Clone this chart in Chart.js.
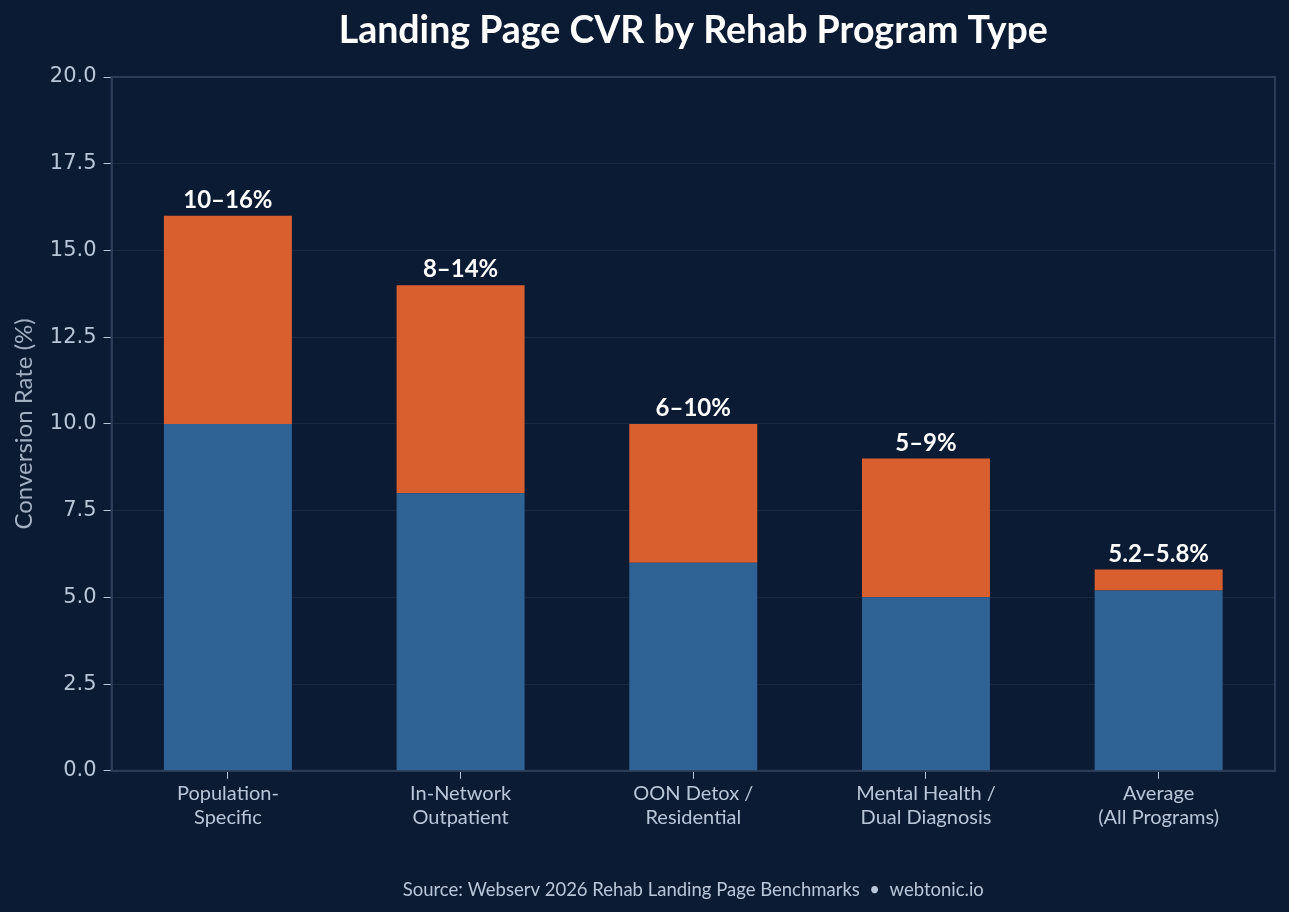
<!DOCTYPE html>
<html>
<head>
<meta charset="utf-8">
<script src="https://cdn.jsdelivr.net/npm/chart.js@4"></script>
<style>
  html, body { margin: 0; padding: 0; background: #0c1b34; }
  #wrap { width: 1289px; height: 912px; }
</style>
</head>
<body>
<div id="wrap"><canvas id="cvr"></canvas></div>
<script>
const programas = [['Population-', 'Specific'], ['In-Network', 'Outpatient'], ['OON Detox /', 'Residential'], ['Mental Health /', 'Dual Diagnosis'], ['Average', '(All Programs)']]
const minimo = [10, 8, 6, 5, 5.2]
const maximo = [16, 14, 10, 9, 5.8]
const faixas = ['10–16%', '8–14%', '6–10%', '5–9%', '5.2–5.8%']

// parte laranja = diferenca entre max e min
const extra = maximo.map((v, i) => +(v - minimo[i]).toFixed(2))

const corTexto = '#b9c5d8'

const moldura = {
    id: 'moldura',
    beforeDatasetsDraw(chart) {
        const a = chart.chartArea
        const ctx = chart.ctx
        ctx.save()
        ctx.strokeStyle = '#2c3c58'
        ctx.lineWidth = 2
        ctx.strokeRect(a.left, a.top, a.right - a.left, a.bottom - a.top)
        ctx.restore()
    }
}

const rotulos = {
    id: 'rotulos',
    afterDatasetsDraw(chart) {
        const ctx = chart.ctx
        const meta = chart.getDatasetMeta(1)
        ctx.save()
        ctx.fillStyle = '#ffffff'
        ctx.font = 'bold 24px Lato'
        ctx.textAlign = 'center'
        ctx.textBaseline = 'alphabetic'
        meta.data.forEach((bar, i) => {
            ctx.fillText(faixas[i], bar.x, bar.y - 8)
        })
        ctx.restore()
    }
}

new Chart(document.getElementById('cvr'), {
    type: 'bar',
    data: {
        labels: programas,
        datasets: [{
            label: 'Min',
            data: minimo,
            backgroundColor: '#2f6295',
            barPercentage: 0.55,
            categoryPercentage: 1
        }, {
            label: 'Range',
            data: extra,
            backgroundColor: '#d95f2f',
            barPercentage: 0.55,
            categoryPercentage: 1
        }]
    },
    options: {
        responsive: true,
        maintainAspectRatio: false,
        animation: false,
        layout: { padding: { left: 6, right: 14, top: 0, bottom: 6 } },
        plugins: {
            legend: { display: false },
            tooltip: { enabled: false },
            title: {
                display: true,
                fullSize: false,
                text: 'Landing Page CVR by Rehab Program Type',
                color: '#ffffff',
                font: { family: 'Lato', size: 37.5, weight: 'bold' },
                padding: { top: 8, bottom: 24 }
            },
            subtitle: {
                display: true,
                fullSize: false,
                position: 'bottom',
                text: 'Source: Webserv 2026 Rehab Landing Page Benchmarks  •  webtonic.io',
                color: corTexto,
                font: { family: 'Lato', size: 18.5 },
                padding: { top: 46, bottom: 5 }
            }
        },
        scales: {
            x: {
                stacked: true,
                grid: { drawOnChartArea: false, offset: false, tickColor: corTexto, tickLength: 8 },
                border: { color: '#2c3c58', width: 2 },
                ticks: { color: corTexto, font: { family: 'Lato', size: 20 }, padding: 3 }
            },
            y: {
                stacked: true,
                min: 0,
                max: 20,
                ticks: {
                    stepSize: 2.5,
                    color: corTexto,
                    font: { family: 'DejaVu Sans', size: 21 },
                    padding: 7,
                    callback: v => v.toFixed(1)
                },
                grid: { color: 'rgba(255,255,255,0.06)', tickColor: corTexto, tickLength: 8 },
                border: { color: '#2c3c58', width: 2 },
                title: {
                    display: true,
                    text: 'Conversion Rate (%)',
                    color: '#a3afc2',
                    font: { family: 'Lato', size: 24 },
                    padding: { top: 4, bottom: 4 }
                }
            }
        }
    },
    plugins: [moldura, rotulos]
})
</script>
</body>
</html>
